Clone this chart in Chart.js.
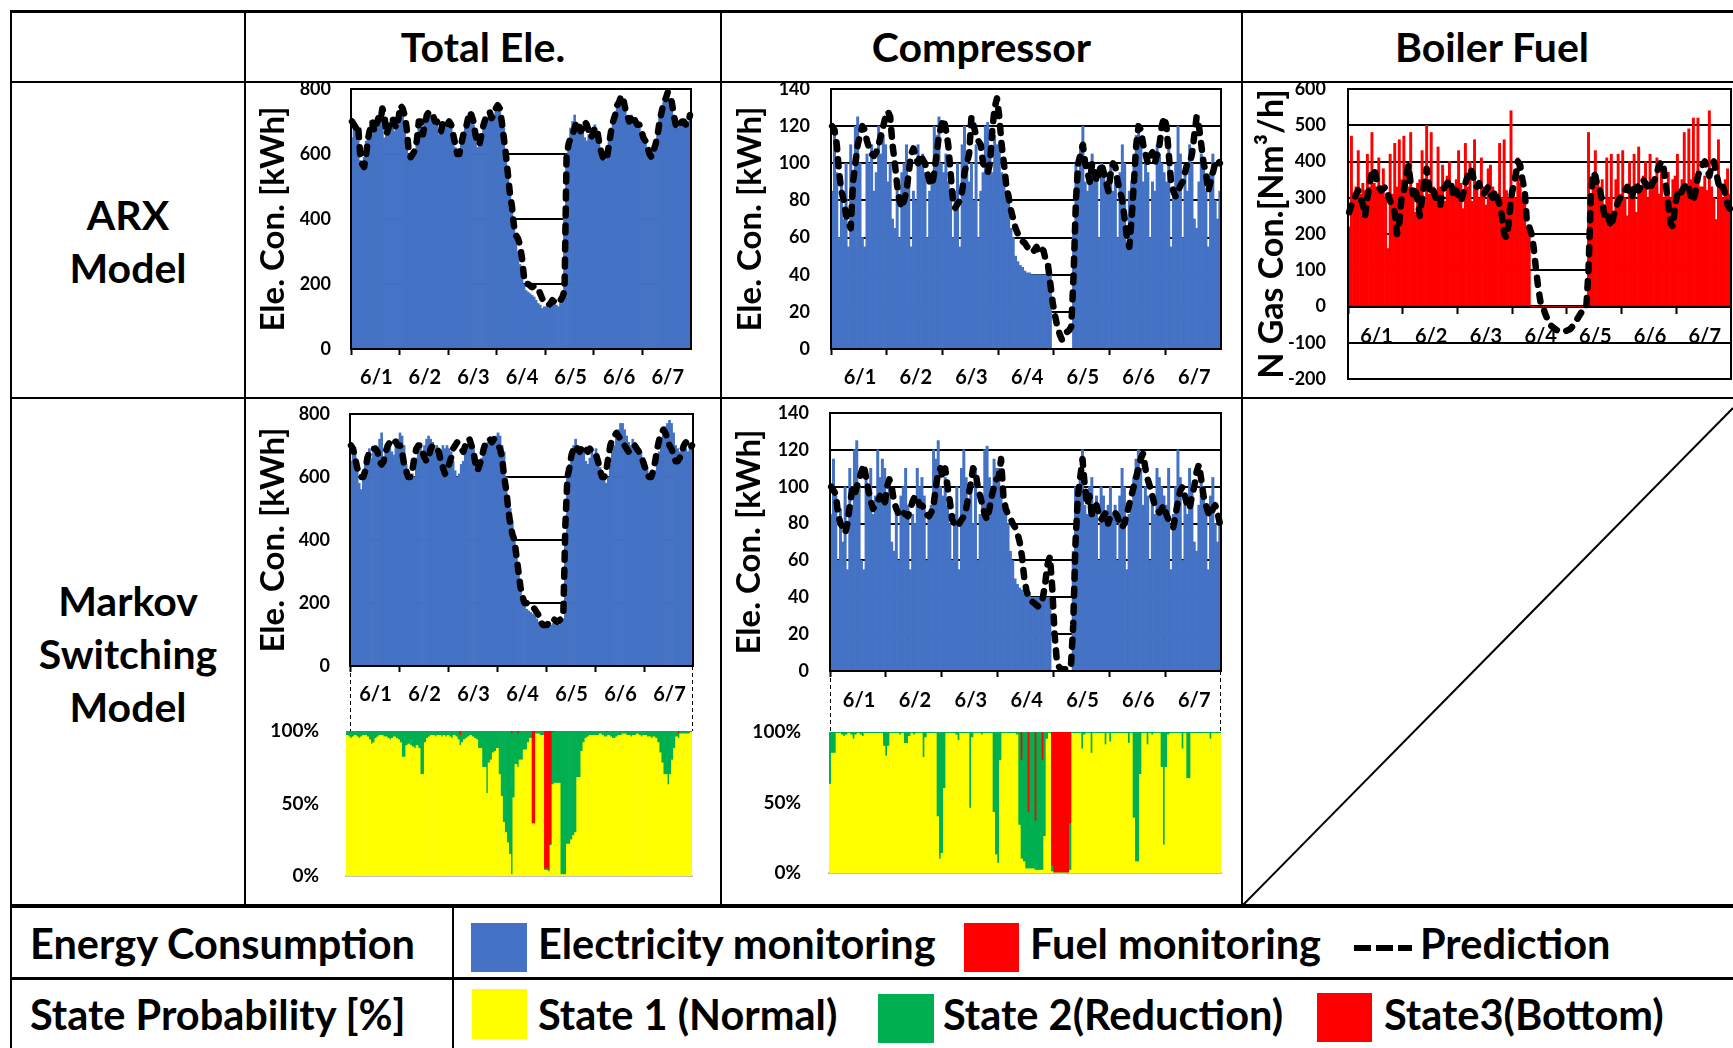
<!DOCTYPE html>
<html>
<head>
<meta charset="utf-8">
<script src="https://cdn.jsdelivr.net/npm/chart.js@4.4.1/dist/chart.umd.min.js"></script>
<style>
  body { margin: 0; width: 1733px; height: 1048px; overflow: hidden; background: #fff; font-family: Lato, sans-serif; position: relative; }
  .ln { position: absolute; background: #000; }
  .t { position: absolute; font-weight: bold; color: #000; white-space: nowrap; }
  .hd { font-size: 41px; line-height: 41px; text-align: center; top: 26px; }
  .lab { left: 11px; width: 234px; text-align: center; font-size: 41px; line-height: 53px; }
  .lg { font-size: 41.5px; line-height: 41.5px; }
  .box { position: absolute; }
  canvas { position: absolute; }
</style>
</head>
<body>

<!-- table lines -->
<div class="ln" style="left:11px;top:10px;width:1722px;height:3px"></div>
<div class="ln" style="left:11px;top:81px;width:1722px;height:2px"></div>
<div class="ln" style="left:11px;top:397px;width:1722px;height:2px"></div>
<div class="ln" style="left:11px;top:904px;width:1722px;height:4px"></div>
<div class="ln" style="left:11px;top:977px;width:1722px;height:3px"></div>
<div class="ln" style="left:10px;top:10px;width:2px;height:1038px"></div>
<div class="ln" style="left:244px;top:10px;width:2px;height:896px"></div>
<div class="ln" style="left:720px;top:10px;width:2px;height:896px"></div>
<div class="ln" style="left:1241px;top:10px;width:2px;height:896px"></div>
<div class="ln" style="left:452px;top:906px;width:2px;height:142px"></div>

<!-- headers -->
<div class="t hd" style="left:245px;width:476px">Total Ele.</div>
<div class="t hd" style="left:721px;width:521px">Compressor</div>
<div class="t hd" style="left:1242px;width:500px">Boiler Fuel</div>
<div class="t lab" style="top:188px">ARX<br>Model</div>
<div class="t lab" style="top:574px">Markov<br>Switching<br>Model</div>

<!-- legend rows -->
<div class="t lg" style="left:30px;top:923px">Energy Consumption</div>
<div class="t lg" style="left:30px;top:994px">State Probability [%]</div>
<div class="box" style="left:471px;top:923px;width:56px;height:49px;background:#4472C4"></div>
<div class="t lg" style="left:538px;top:923px">Electricity monitoring</div>
<div class="box" style="left:964px;top:923px;width:55px;height:49px;background:#FF0000"></div>
<div class="t lg" style="left:1030px;top:923px">Fuel monitoring</div>
<div class="t lg" style="left:1420px;top:923px">Prediction</div>
<div class="box" style="left:472px;top:989px;width:55px;height:50px;background:#FFFF00"></div>
<div class="t lg" style="left:538px;top:994px">State 1 (Normal)</div>
<div class="box" style="left:878px;top:994px;width:56px;height:49px;background:#00B050"></div>
<div class="t lg" style="left:943px;top:994px">State 2(Reduction)</div>
<div class="box" style="left:1317px;top:993px;width:55px;height:49px;background:#FF0000"></div>
<div class="t lg" style="left:1384px;top:994px">State3(Bottom)</div>

<svg width="1733" height="1048" style="position:absolute;left:0;top:0;pointer-events:none;z-index:5">
  <line x1="1242" y1="906" x2="1733" y2="408" stroke="#000" stroke-width="2"/>
  <line x1="350.5" y1="666" x2="350.5" y2="731" stroke="#000" stroke-width="1" stroke-dasharray="4 3"/>
  <line x1="692.5" y1="666" x2="692.5" y2="731" stroke="#000" stroke-width="1" stroke-dasharray="4 3"/>
  <line x1="830.5" y1="671" x2="830.5" y2="732" stroke="#000" stroke-width="1" stroke-dasharray="4 3"/>
  <line x1="1220.5" y1="671" x2="1220.5" y2="732" stroke="#000" stroke-width="1" stroke-dasharray="4 3"/>
  <line x1="1354" y1="948" x2="1412" y2="948" stroke="#000" stroke-width="6" stroke-dasharray="17 5"/>
</svg>

<script>
// ---- data (hourly, 6/1 00:00 .. 6/7 23:00) ----
const days = ['6/1', '6/2', '6/3', '6/4', '6/5', '6/6', '6/7'];

// total electricity, measured [kWh]
const totalEle = [
  650,690,680,640,580,560,590,640,670,690,660,680,700,690,720,740,650,680,690,700,680,670,700,720,
  740,730,700,640,600,590,610,600,660,700,690,650,700,720,730,720,710,690,700,660,680,700,690,700,
  690,680,650,620,600,610,640,650,680,700,720,700,690,650,620,640,660,690,700,710,720,700,710,730,
  740,730,700,680,600,540,500,460,400,350,300,260,220,200,180,175,170,165,160,150,140,135,125,130,
  130,125,130,135,140,135,130,140,150,420,600,640,680,700,720,690,670,680,690,650,640,660,680,670,
  690,670,630,600,590,580,600,640,680,700,730,750,770,770,750,730,710,700,720,710,700,690,680,660,
  650,630,610,600,600,620,640,680,720,740,760,770,780,770,740,700,690,680,690,700,690,680,700,710
];
// total electricity, ARX prediction
const arxTotalPred = [
  700,690,680,690,600,570,560,600,650,680,700,670,690,710,700,740,720,660,680,700,710,690,680,710,
  750,740,720,680,610,590,600,610,640,700,700,660,690,720,730,730,720,700,700,680,670,700,700,690,
  700,690,660,630,600,600,630,660,670,700,730,720,700,660,630,630,660,690,710,720,730,710,720,740,
  750,740,700,650,600,540,480,440,380,350,340,320,280,220,200,200,195,190,195,190,185,170,155,145,
  140,135,140,150,145,140,140,150,160,180,590,630,650,660,680,700,690,670,680,700,690,670,650,660,
  680,680,640,610,590,580,590,630,670,700,720,750,760,780,770,740,720,700,710,720,700,690,690,670,
  650,640,620,600,590,610,630,660,700,730,760,770,790,780,760,720,690,680,690,700,700,690,690,720
];
// total electricity, Markov switching prediction
const msTotalPred = [
  700,690,660,630,610,600,600,620,660,680,690,690,690,680,650,640,650,680,700,710,720,720,710,700,
  700,680,640,620,600,600,620,660,690,700,700,680,660,650,660,690,700,700,690,680,650,630,610,620,
  640,660,690,700,710,700,690,680,700,720,720,700,680,640,620,640,660,690,710,720,720,710,720,710,
  700,690,660,600,560,500,450,420,400,350,300,250,220,200,200,195,190,190,180,170,160,140,130,130,
  130,140,150,150,145,140,145,150,170,450,600,630,670,690,700,690,680,690,700,690,680,690,680,670,
  670,650,620,600,600,620,660,700,720,730,740,730,720,710,700,690,680,680,690,700,690,680,670,650,
  630,610,600,600,620,650,690,720,740,750,740,720,700,690,670,650,650,660,680,700,710,700,690,700
];

// compressor electricity, measured [kWh]
const compEle = [
  85,115,95,60,88,70,100,55,110,90,120,125,100,60,55,105,100,110,85,95,120,105,115,110,
  90,100,70,65,85,60,95,100,110,90,55,85,80,110,100,105,95,60,85,90,120,115,125,100,
  95,105,90,80,60,85,100,55,110,120,105,90,100,80,110,60,85,95,120,122,105,95,115,110,
  110,95,88,85,80,65,60,50,47,45,44,42,41,41,40,40,40,40,40,40,40,40,40,0,
  0,0,0,0,0,0,0,0,65,100,95,110,120,90,85,100,105,90,95,60,100,95,85,90,
  100,85,90,60,95,110,100,55,85,90,105,115,120,110,90,100,95,60,90,85,110,105,100,95,
  90,110,55,85,100,120,105,60,95,85,110,100,70,65,90,105,100,85,55,95,105,80,70,85
];
const arxCompPred = [
  120,118,110,95,85,80,72,68,65,90,100,110,115,120,118,112,108,105,104,106,110,115,120,125,
  128,125,110,100,88,80,76,80,85,95,105,108,104,100,105,102,100,95,90,88,95,105,115,120,
  124,118,110,95,80,76,78,80,85,95,100,105,125,120,115,112,110,100,98,95,100,118,130,135,
  125,110,100,88,82,75,70,65,62,60,58,57,55,54,52,53,55,52,54,53,48,45,35,25,
  18,12,8,5,6,9,10,12,40,80,100,105,110,100,95,90,100,95,90,95,100,95,90,85,
  95,100,98,90,85,80,70,60,55,70,90,110,120,118,110,105,100,104,106,100,105,110,120,125,
  120,105,90,85,82,85,88,90,95,100,100,105,115,125,120,110,100,95,85,90,95,100,102,100
];
const msCompPred = [
  100,98,96,85,80,78,75,80,90,98,95,100,104,108,112,105,98,92,88,90,92,95,92,90,
  100,104,100,92,88,85,84,86,85,84,88,92,95,94,90,90,88,85,84,86,90,100,108,110,
  105,110,100,92,82,80,78,80,82,84,88,95,102,110,108,100,95,90,85,82,88,95,100,104,
  105,115,95,88,85,83,80,78,75,70,62,50,43,40,38,37,36,35,36,40,48,58,62,45,
  20,5,2,1,1,1,1,2,25,70,95,105,115,100,90,95,85,88,90,85,82,84,86,80,
  84,85,86,84,80,78,80,85,90,95,100,105,110,115,118,110,104,100,95,90,88,86,88,90,
  85,82,80,78,85,92,98,100,95,90,88,95,100,108,112,104,95,90,86,84,88,90,86,80
];

// boiler fuel, measured [Nm3/h]
const boilerFuel = [
  220,470,300,330,430,310,340,320,420,330,480,340,330,410,320,380,300,160,420,310,450,330,460,350,
  470,360,330,480,320,260,340,350,430,300,500,310,480,330,310,440,330,390,290,360,400,310,330,350,
  430,340,270,450,330,400,290,460,340,300,410,330,280,380,390,330,300,290,450,300,460,320,300,540,
  330,300,410,340,300,290,220,200,0,0,0,0,0,0,0,0,0,0,0,0,0,0,0,0,
  0,0,0,0,0,0,0,0,0,480,280,350,430,340,330,350,280,410,300,420,250,350,420,310,
  430,300,250,400,330,420,260,440,330,360,400,300,420,330,350,410,310,380,300,340,370,300,350,360,
  420,320,350,480,330,490,350,520,340,520,330,330,360,320,540,330,300,240,460,330,300,350,380,310
];
const arxBoilerPred = [
  260,280,290,310,320,300,280,250,300,340,370,380,350,330,320,325,330,310,290,280,260,200,230,300,
  320,360,390,340,310,330,290,250,300,340,380,330,310,320,300,300,280,320,330,340,350,330,300,320,
  300,290,310,340,360,380,370,340,330,340,320,310,320,330,310,300,320,300,280,250,200,190,230,300,
  330,360,400,390,350,320,230,220,200,160,100,50,10,0,-20,-35,-50,-55,-60,-65,-68,-70,-70,-68,
  -65,-62,-55,-45,-35,-25,-15,-10,-5,100,300,370,360,330,320,290,250,260,240,220,250,270,290,300,
  310,320,330,310,300,330,340,320,330,350,340,330,320,340,350,370,390,400,380,330,280,230,220,280,
  310,300,320,330,340,330,300,290,320,360,380,390,400,380,360,390,400,370,340,320,330,310,280,270
];

// state probabilities [%] (state 1 is the remainder to 100)
const totalS2 = [
  3,4,5,4,3,4,5,4,3,3,4,6,9,8,5,4,3,3,4,4,5,6,5,4,
  5,6,8,18,18,10,9,10,11,12,10,12,30,30,8,5,4,3,3,4,3,3,4,3,
  4,3,4,5,3,4,6,7,8,6,5,4,3,4,5,6,12,12,25,25,43,22,20,15,
  14,12,30,45,63,70,77,85,97,46,23,23,20,20,13,13,8,5,0,0,2,2,3,3,
  1,1,1,1,36,36,36,36,99,99,99,78,78,75,72,70,32,32,14,8,5,4,3,3,
  3,3,3,2,3,4,3,3,4,5,5,4,3,3,2,2,3,3,4,3,3,2,3,4,
  3,3,4,4,5,4,5,8,15,22,30,30,37,30,20,12,4,3,2,2,2,2,2,1
];
const totalS3 = [
  0,0,0,0,0,0,0,0,0,0,0,0,0,0,0,0,0,0,0,0,0,0,0,0,
  0,0,0,0,0,0,0,0,0,0,0,0,0,0,0,0,0,0,0,0,0,0,0,0,
  0,0,0,0,0,0,0,3,0,0,0,0,0,0,0,0,0,0,0,0,0,0,0,0,
  0,0,0,0,0,0,0,0,2,0,0,2,0,0,0,0,0,0,64,64,0,0,0,0,
  95,95,96,78,1,0,0,0,0,0,0,0,0,0,0,0,0,0,0,0,0,0,0,0,
  0,0,0,0,0,0,1,0,0,0,0,0,0,0,0,0,0,0,0,0,0,0,0,0,
  0,0,0,0,0,0,0,0,0,0,0,0,0,0,0,0,0,2,0,0,0,0,0,0
];
const compS2 = [
  37,15,15,1,1,2,3,2,1,2,5,2,1,2,3,1,1,1,1,1,1,1,1,10,
  17,10,1,1,1,1,2,1,8,8,3,1,2,1,1,1,18,4,1,1,1,1,60,90,
  86,40,1,1,1,1,2,6,1,1,1,1,54,4,1,1,1,2,1,1,1,1,57,87,
  93,20,1,1,1,1,1,1,2,66,70,92,97,40,97,97,35,98,98,78,74,5,1,4,
  0,0,0,0,0,0,0,33,1,1,1,1,12,2,1,1,15,1,1,1,1,1,9,1,
  7,1,1,1,1,1,1,1,8,1,61,92,92,30,1,1,9,1,2,1,1,1,25,80,
  25,2,1,1,1,1,1,12,1,33,33,1,1,1,1,1,1,1,1,5,1,1,1,1
];
const compS3 = [
  0,0,0,0,0,0,0,0,0,0,0,0,0,0,0,0,0,0,0,0,0,0,0,0,
  0,0,0,0,0,0,0,0,0,0,0,0,0,0,0,0,0,0,0,0,0,0,0,0,
  0,0,0,0,0,0,0,0,0,0,0,0,0,0,0,0,0,0,0,0,0,0,0,0,
  0,0,0,0,0,0,0,0,0,0,20,0,0,57,0,0,63,0,0,20,0,0,0,95,
  100,100,100,100,100,100,100,65,0,0,0,0,0,0,0,0,0,0,0,0,0,0,0,0,
  0,0,0,0,0,0,0,0,0,0,0,0,0,0,0,0,0,0,0,0,0,0,0,0,
  0,0,0,0,0,0,0,0,0,0,0,0,0,0,0,0,0,0,0,0,0,0,0,0
];

const hours = days.flatMap(d => Array.from({length: 24}, (_, h) => d + ' ' + h + ':00'));

Chart.defaults.font.family = 'Lato';
Chart.defaults.color = '#000';

// black rectangle round the plot area
const framePlugin = {
  id: 'frame',
  afterDatasetsDraw(chart) {
    const a = chart.chartArea, ctx = chart.ctx;
    ctx.save();
    ctx.strokeStyle = '#000';
    ctx.lineWidth = 2;
    ctx.strokeRect(a.left, a.top, a.right - a.left, a.bottom - a.top);
    ctx.restore();
  }
};

function addCanvas(box) {
  const cv = document.createElement('canvas');
  cv.width = box.w; cv.height = box.h;
  cv.style.left = box.x + 'px'; cv.style.top = box.y + 'px';
  cv.style.width = box.w + 'px'; cv.style.height = box.h + 'px';
  document.body.appendChild(cv);
  return cv;
}

function dayAxis(xH, pad) {
  return {
    type: 'category', offset: true,
    grid: {
      offset: true, drawOnChartArea: false, tickLength: 6, tickWidth: 2,
      tickColor: c => c.index % 24 === 0 ? '#000' : 'rgba(0,0,0,0)'
    },
    border: {display: false},
    ticks: {
      autoSkip: false, maxRotation: 0, minRotation: 0, padding: pad,
      font: {size: 20, weight: 'bold'},
      callback: (v, i) => i % 24 === 12 ? days[Math.floor(i / 24)] : ''
    },
    afterFit: s => { s.height = xH; s.paddingLeft = 0; s.paddingRight = 0; }
  };
}

function monitorChart(box, area, o) {
  const cv = addCanvas(box);
  const yW = area.l - box.x;
  const x = dayAxis(box.y + box.h - area.b, o.xPad);
  let padBottom = 0;
  if (o.zeroAxis) {
    x.position = {y: 0};
    x.border = {display: true, color: '#000', width: 3};
    padBottom = box.y + box.h - area.b;
  }
  new Chart(cv, {
    type: 'bar',
    data: {
      labels: hours,
      datasets: [
        {type: 'line', label: 'Prediction', data: o.pred, borderColor: '#000', borderWidth: 6.5,
         borderDash: [7, 10], borderCapStyle: 'round', borderJoinStyle: 'round',
         pointRadius: 0, tension: 0, order: 0},
        {label: o.label, data: o.values, backgroundColor: o.color,
         barPercentage: 1, categoryPercentage: 1, order: 1}
      ]
    },
    options: {
      responsive: false, animation: false,
      layout: {padding: {top: area.t - box.y, right: box.x + box.w - area.r, bottom: padBottom, left: 0}},
      plugins: {legend: {display: false}, tooltip: {enabled: false}},
      scales: {
        x: x,
        y: {
          min: o.min, max: o.max,
          ticks: {stepSize: o.step, padding: o.tickPad, font: {size: 18, weight: 'bold'}},
          grid: {color: '#000', lineWidth: 2, drawTicks: false},
          border: {display: false},
          title: {display: true, text: o.title, font: {size: o.titleSize, weight: 'bold'},
                  padding: {top: o.titlePad, bottom: 0}},
          afterFit: s => { s.width = yW; s.paddingTop = 0; s.paddingBottom = 0; }
        }
      }
    },
    plugins: [framePlugin]
  });
}

function stateChart(box, area, s2, s3, tickPad) {
  const cv = addCanvas(box);
  const yW = area.l - box.x, xH = box.y + box.h - area.b;
  const s1 = s2.map((v, i) => 100 - v - s3[i]);
  const common = {barPercentage: 1, categoryPercentage: 1};
  new Chart(cv, {
    type: 'bar',
    data: {
      labels: hours,
      datasets: [
        Object.assign({label: 'State 1 (Normal)', data: s1, backgroundColor: '#FFFF00'}, common),
        Object.assign({label: 'State 2(Reduction)', data: s2, backgroundColor: '#00B050'}, common),
        Object.assign({label: 'State3(Bottom)', data: s3, backgroundColor: '#FF0000'}, common)
      ]
    },
    options: {
      responsive: false, animation: false,
      layout: {padding: {top: area.t - box.y, right: box.x + box.w - area.r, bottom: 0, left: 0}},
      plugins: {legend: {display: false}, tooltip: {enabled: false}},
      scales: {
        x: {
          stacked: true, offset: true,
          grid: {display: false}, ticks: {display: false},
          border: {display: true, color: '#bfbfbf', width: 2},
          afterFit: s => { s.height = xH; s.paddingLeft = 0; s.paddingRight = 0; }
        },
        y: {
          stacked: true, min: 0, max: 100,
          ticks: {stepSize: 50, padding: tickPad, font: {size: 19, weight: 'bold'}, callback: v => v + '%'},
          grid: {display: false}, border: {display: false},
          afterFit: s => { s.width = yW; s.paddingTop = 0; s.paddingBottom = 0; }
        }
      }
    }
  });
}

const eleTitle = 'Ele. Con. [kWh]';

// ARX row
monitorChart({x: 250, y: 76, w: 452, h: 314}, {l: 351, t: 89, r: 691, b: 349},
  {values: totalEle, pred: arxTotalPred, color: '#4472C4', label: 'Electricity monitoring',
   min: 0, max: 800, step: 200, title: eleTitle, titleSize: 33, titlePad: 4, tickPad: 20, xPad: 11});
monitorChart({x: 726, y: 76, w: 510, h: 314}, {l: 831, t: 89, r: 1221, b: 349},
  {values: compEle, pred: arxCompPred, color: '#4472C4', label: 'Electricity monitoring',
   min: 0, max: 140, step: 20, title: eleTitle, titleSize: 33, titlePad: 5, tickPad: 21, xPad: 11});
monitorChart({x: 1246, y: 76, w: 500, h: 314}, {l: 1348, t: 89, r: 1731, b: 379},
  {values: boilerFuel, pred: arxBoilerPred, color: '#FF0000', label: 'Fuel monitoring', zeroAxis: true,
   min: -200, max: 600, step: 100, title: 'N Gas Con.[Nm³/h]', titleSize: 34, titlePad: 6, tickPad: 22, xPad: 12});

// Markov switching row
monitorChart({x: 250, y: 400, w: 452, h: 320}, {l: 350, t: 414, r: 693, b: 666},
  {values: totalEle, pred: msTotalPred, color: '#4472C4', label: 'Electricity monitoring',
   min: 0, max: 800, step: 200, title: eleTitle, titleSize: 33, titlePad: 4, tickPad: 20, xPad: 11});
monitorChart({x: 726, y: 400, w: 510, h: 320}, {l: 830, t: 413, r: 1221, b: 671},
  {values: compEle, pred: msCompPred, color: '#4472C4', label: 'Electricity monitoring',
   min: 0, max: 140, step: 20, title: eleTitle, titleSize: 33, titlePad: 4, tickPad: 21, xPad: 12});

stateChart({x: 250, y: 716, w: 452, h: 171}, {l: 346, t: 731, r: 692, b: 876}, totalS2, totalS3, 19);
stateChart({x: 726, y: 716, w: 510, h: 171}, {l: 829, t: 732, r: 1221, b: 873}, compS2, compS3, 20);
</script>
</body>
</html>
